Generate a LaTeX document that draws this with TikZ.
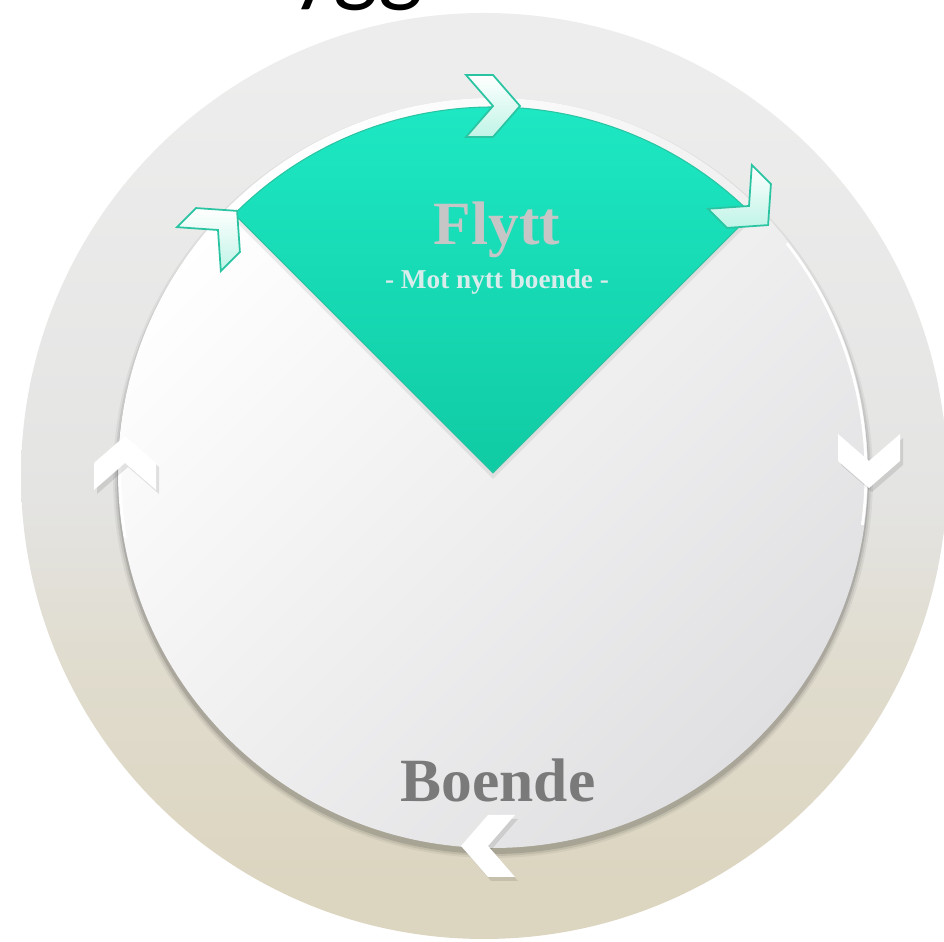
\documentclass[tikz,border=0pt]{standalone}
\usepackage{fontspec}
\setmainfont{Liberation Serif}
\newfontfamily\carlito{Carlito}
\begin{document}
\begin{tikzpicture}[x=0.02cm,y=0.02cm,
  pics/chev/.style={code={\path[pic actions] (-27,31) -- (0,31) -- (27,0) -- (0,-31) -- (-27,-31) -- (0,0) -- cycle;}},
  tealchev/.style={draw=tealedge, line width=1pt, top color=white, bottom color=mintc},
  whitechev/.style={fill=white},
  chevshadow/.style={fill=black, opacity=0.10},
  bigtitle/.style={font=\bfseries\fontsize{35}{40}\selectfont},
  subtitle/.style={font=\bfseries\fontsize{15.5}{18}\selectfont}
]
\definecolor{mintc}{HTML}{BFF4E6}
\definecolor{ringtop}{HTML}{EDEDED}
\definecolor{ringmid}{HTML}{E4E4E3}
\definecolor{ringbeige}{HTML}{E0DCCE}
\definecolor{ringbot}{HTML}{DCD5C0}
\definecolor{tealtop}{HTML}{1EEBC6}
\definecolor{tealbot}{HTML}{10CBA4}
\definecolor{tealedge}{HTML}{2BC4A2}
\definecolor{discgray}{HTML}{E0E0E2}
\definecolor{flyttgray}{HTML}{C6C6C6}
\definecolor{boendegray}{HTML}{7A7A7A}
\pgfdeclareverticalshading{ringshade}{100bp}{color(0bp)=(ringbot); color(28bp)=(ringbot); color(40bp)=(ringbeige); color(49bp)=(ringmid); color(72bp)=(ringtop); color(100bp)=(ringtop)}

\useasboundingbox (0,0) rectangle (944,942);
\fill[white] (0,0) rectangle (944,942);

% cut-off text at top edge
\node[font=\carlito\fontsize{54}{60}\selectfont, anchor=base east, inner sep=0pt] (frag) at (424,947) {ygg};

% outer ring
\shade[shading=ringshade] (484,466) circle[radius=463];

% inner disc shadow
\foreach \o/\r in {0.05/380,0.08/378,0.12/376}
  \fill[black, opacity=\o] (493,464) circle[radius=\r];
% inner disc
\shade[top color=white, bottom color=discgray, shading angle=45] (493,469) circle[radius=375];

\begin{scope}[shift={(493,469)}]
  % white highlight arcs
  \draw[white, line width=1.6pt] (38:373) arc[start angle=38, end angle=-8, radius=373];
  \draw[white, line width=1.4pt] (178:373) arc[start angle=178, end angle=190, radius=373];
  % teal sector
  \fill[black, opacity=0.07] (0,-6) -- ++(45:368) arc[start angle=45, end angle=135, radius=368] -- cycle;
  \shade[top color=tealtop, bottom color=tealbot, draw=tealedge, line width=0.6pt]
    (0,0) -- (45:366) arc[start angle=45, end angle=135, radius=366] -- cycle;
\end{scope}

% texts
\node[bigtitle, text=flyttgray] (flytt) at (497,712) {Flytt};
\node[subtitle, text=white!85!teal] (mot) at (497,660) {- Mot nytt boende -};
\node[bigtitle, text=boendegray] (boende) at (498,162) {Boende};

% teal chevrons
\pic[rotate=0, tealchev] at (493,836) {chev};
\pic[rotate=45, tealchev] at (218,712) {chev};
\pic[rotate=-45, tealchev] at (749,736) {chev};

% white chevrons with shadows
\pic[rotate=-90, chevshadow] at (872,477) {chev};
\pic[rotate=-90, whitechev] at (869,481) {chev};
\pic[rotate=180, chevshadow] at (491,92) {chev};
\pic[rotate=180, whitechev] at (488,96) {chev};
\pic[rotate=90, chevshadow] at (128,475) {chev};
\pic[rotate=90, whitechev] at (125,479) {chev};
\end{tikzpicture}
\end{document}
